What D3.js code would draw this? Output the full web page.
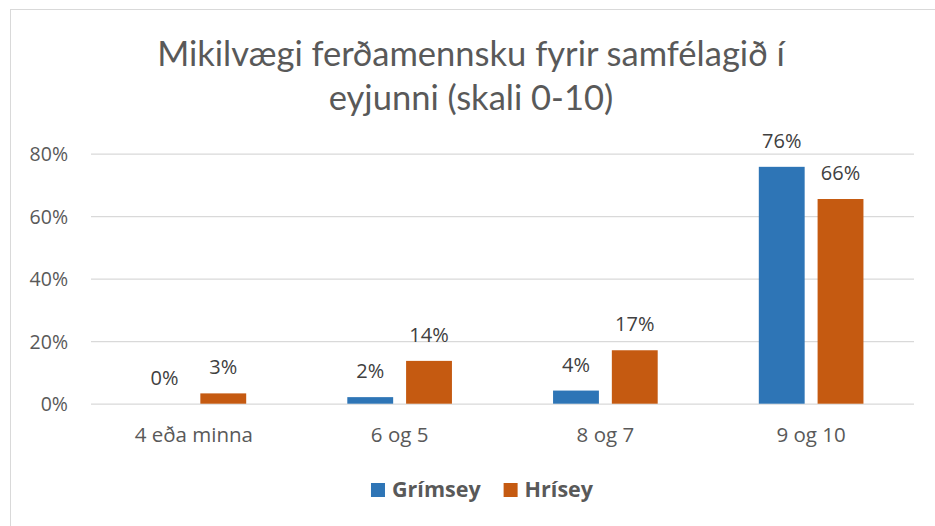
<!DOCTYPE html>
<html>
<head>
<meta charset="utf-8">
<script src="https://cdn.jsdelivr.net/npm/d3@7"></script>
<style>
  body { margin: 0; background: #fff; }
  svg { display: block; }
  text { font-family: "Open Sans", "DejaVu Sans", sans-serif; }
</style>
</head>
<body>
<svg id="chart" width="935" height="526"></svg>
<script>
// chart values
var categories = ['4 eða minna', '6 og 5', '8 og 7', '9 og 10'];
var seriesNames = ['Grímsey', 'Hrísey'];
var grimsey = [0, 0.021, 0.042, 0.758];
var hrisey = [0.033, 0.137, 0.171, 0.655];
var yTicks = [0, 0.2, 0.4, 0.6, 0.8];
var titleLines = ['Mikilvægi ferðamennsku fyrir samfélagið í', 'eyjunni (skali 0-10)'];

var colours = { 'Grímsey': '#2e75b6', 'Hrísey': '#c55a11' };

var svg = d3.select('#chart');
var margin = {top: 153.7, right: 21, bottom: 122.3, left: 91},
    width = 935 - margin.left - margin.right,
    height = 526 - margin.top - margin.bottom;

// outer frame (only top and left show in the crop)
svg.append('rect')
  .attr('x', 10.5).attr('y', 9.5)
  .attr('width', 960).attr('height', 560)
  .attr('fill', 'none')
  .attr('stroke', '#d9d9d9')
  .attr('stroke-width', 1);

// title
var title = svg.append('g').attr('class', 'title');
titleLines.forEach(function(line, i) {
  title.append('text')
    .attr('x', 471)
    .attr('y', 66 + i * 44)
    .attr('text-anchor', 'middle')
    .attr('font-size', 32)
    .attr('font-weight', 400)
    .attr('fill', '#595959')
    .style('font-family', 'Lato, "Open Sans", sans-serif')
    .text(line);
});
// fit title to the width it has in the reference
var first = title.select('text').node();
var w = first.getComputedTextLength();
if (w > 0) {
  title.selectAll('text').attr('font-size', 32 * 628 / w);
}

var g = svg.append('g')
  .attr('transform', 'translate(' + margin.left + ',' + margin.top + ')');

var x0 = d3.scaleBand().domain(categories).range([0, width]).paddingInner(0).paddingOuter(0);
var x1 = d3.scaleBand().domain(seriesNames).range([0, x0.bandwidth()]).paddingInner(0.22).paddingOuter(0.86);
var y = d3.scaleLinear().domain([0, 0.8]).range([height, 0]);

// gridlines
var yAxis = d3.axisLeft(y).tickValues(yTicks).tickSize(-width).tickFormat(d3.format('.0%'));
var ya = g.append('g').attr('class', 'y axis').call(yAxis);
ya.select('.domain').remove();
ya.selectAll('line').attr('stroke', '#d9d9d9').attr('stroke-width', 1.3);
ya.selectAll('text')
  .attr('x', -23)
  .attr('dy', '0.36em')
  .attr('font-size', 19.5)
  .attr('fill', '#595959')
  .style('font-family', '"Open Sans", sans-serif');

// x axis labels
var xAxis = d3.axisBottom(x0).tickSize(0);
var xa = g.append('g').attr('class', 'x axis')
  .attr('transform', 'translate(0,' + height + ')')
  .call(xAxis);
xa.select('.domain').remove();
xa.selectAll('text')
  .attr('y', 38)
  .attr('dy', 0)
  .attr('font-size', 20.5)
  .attr('fill', '#595959')
  .style('font-family', '"Open Sans", sans-serif');

var rows = categories.map(function(c, i) {
  return { cat: c, values: [{name: 'Grímsey', v: grimsey[i]}, {name: 'Hrísey', v: hrisey[i]}] };
});

var groups = g.selectAll('.cat')
  .data(rows)
  .enter().append('g')
  .attr('class', 'cat')
  .attr('transform', function(d) { return 'translate(' + x0(d.cat) + ',0)'; });

groups.selectAll('rect')
  .data(function(d) { return d.values; })
  .enter().append('rect')
  .attr('x', function(d) { return x1(d.name); })
  .attr('width', x1.bandwidth())
  .attr('y', function(d) { return y(d.v); })
  .attr('height', function(d) { return height - y(d.v); })
  .attr('fill', function(d) { return colours[d.name]; });

groups.selectAll('text.val')
  .data(function(d) { return d.values; })
  .enter().append('text')
  .attr('class', 'val')
  .attr('x', function(d) { return x1(d.name) + x1.bandwidth() / 2; })
  .attr('y', function(d) { return y(d.v) - 19; })
  .attr('text-anchor', 'middle')
  .attr('font-size', 20)
  .attr('fill', '#404040')
  .text(function(d) { return Math.round(d.v * 100) + '%'; });

// legend
var legend = svg.append('g').attr('class', 'legend');
var lx = 0;
seriesNames.forEach(function(name, i) {
  var item = legend.append('g').attr('transform', 'translate(' + lx + ',0)');
  item.append('rect')
    .attr('x', 0).attr('y', -14)
    .attr('width', 14).attr('height', 14)
    .attr('fill', colours[name]);
  var t = item.append('text')
    .attr('x', 21)
    .attr('y', 0)
    .attr('font-size', 21.5)
    .attr('font-weight', 700)
    .attr('fill', '#595959')
    .text(name);
  lx += 21 + t.node().getComputedTextLength() + 23;
});
var legendWidth = lx - 23;
legend.attr('transform', 'translate(' + (482 - legendWidth / 2) + ',497)');
</script>
</body>
</html>
